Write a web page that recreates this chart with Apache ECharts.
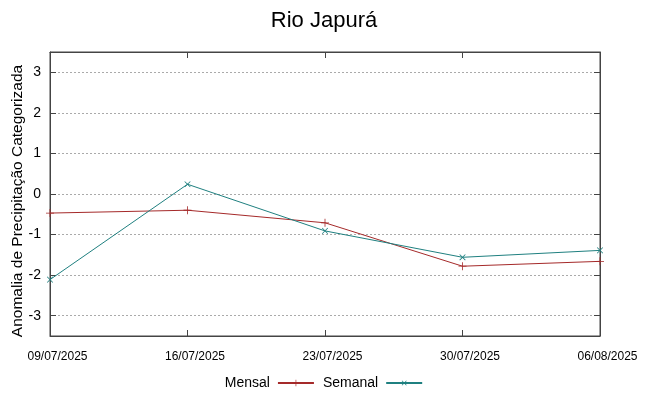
<!DOCTYPE html>
<html>
<head>
<meta charset="utf-8">
<script src="https://cdn.jsdelivr.net/npm/echarts@6/dist/echarts.min.js"></script>
<style>
  html, body { margin: 0; padding: 0; background: #fff; }
  #chart { width: 648px; height: 396px; }
</style>
</head>
<body>
<div id="chart"></div>
<script>
const dates = ['09/07/2025', '16/07/2025', '23/07/2025', '30/07/2025', '06/08/2025'];
const mensal = [-0.47, -0.40, -0.71, -1.78, -1.66];
const semanal = [-2.11, 0.24, -0.91, -1.56, -1.39];
const yTicks = [-3, -2, -1, 0, 1, 2, 3];

const font = 'Liberation Sans, Arial, sans-serif';
const frame = { show: true, onZero: false, lineStyle: { color: '#444', width: 1 } };
const tickIn = { show: true, inside: true, length: 6, lineStyle: { color: '#444' } };

// thin filled rects so the "+" / "x" markers look like gnuplot points
const plusPath = 'path://M0,4.5H10V5.5H0Z M4.5,0H5.5V10H4.5Z';

const chart = echarts.init(document.getElementById('chart'));
chart.setOption({
  animation: false,
  backgroundColor: '#fff',
  title: {
    text: 'Rio Japurá',
    left: 'center',
    top: 5,
    textStyle: { fontFamily: font, fontSize: 22, fontWeight: 'normal', color: '#000' }
  },
  grid: {
    left: 50, right: 48, top: 52, bottom: 60,
    outerBoundsMode: 'none',
    containLabel: false,
    show: true, borderColor: '#444', borderWidth: 1
  },
  legend: {
    bottom: 1,
    left: 'center',
    align: 'right',
    itemWidth: 36,
    itemHeight: 8,
    itemGap: 8,
    textStyle: { fontFamily: font, fontSize: 14, color: '#000', padding: [0, 3, 0, 0] },
    data: ['Mensal', 'Semanal']
  },
  xAxis: [
    {
      type: 'category',
      data: dates,
      boundaryGap: false,
      axisLine: frame,
      axisTick: tickIn,
      axisLabel: { fontFamily: font, fontSize: 12, color: '#000', margin: 15, padding: [0, 0, 0, 15] },
      splitLine: { show: false }
    },
    {
      type: 'category',
      data: dates,
      position: 'top',
      boundaryGap: false,
      axisLine: frame,
      axisTick: tickIn,
      axisLabel: { show: false },
      splitLine: { show: false }
    }
  ],
  yAxis: [
    {
      type: 'value',
      min: -3.5,
      max: 3.5,
      name: 'Anomalia de Precipitação Categorizada',
      nameLocation: 'middle',
      nameGap: 24,
      nameMoveOverlap: false,
      nameTextStyle: { fontFamily: font, fontSize: 15.5, color: '#000', padding: [0, 14, 0, 0] },
      axisLine: frame,
      axisTick: Object.assign({ customValues: yTicks }, tickIn),
      axisLabel: { customValues: yTicks, fontFamily: font, fontSize: 14, color: '#000', margin: 9 },
      splitLine: { show: true, lineStyle: { color: '#aaa', type: [2, 2], width: 1 } }
    },
    {
      type: 'value',
      min: -3.5,
      max: 3.5,
      position: 'right',
      axisLine: frame,
      axisTick: Object.assign({ customValues: yTicks }, tickIn),
      axisLabel: { show: false },
      splitLine: { show: false }
    }
  ],
  series: [
    {
      name: 'Mensal',
      type: 'line',
      data: mensal,
      color: '#a52a2a',
      lineStyle: { width: 1 },
      symbol: plusPath,
      symbolSize: 8,
      showSymbol: true
    },
    {
      name: 'Semanal',
      type: 'line',
      data: semanal,
      color: '#1f8080',
      lineStyle: { width: 1 },
      symbol: plusPath,
      symbolRotate: 45,
      symbolSize: 8,
      showSymbol: true
    }
  ]
});
</script>
</body>
</html>
